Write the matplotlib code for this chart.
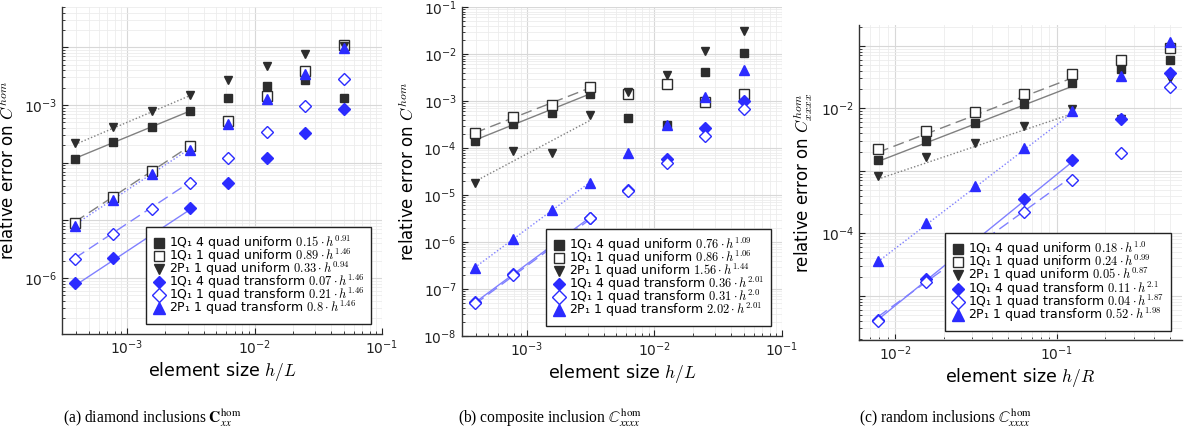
import numpy as np
import matplotlib
matplotlib.use("Agg")
import matplotlib.pyplot as plt
from matplotlib.font_manager import FontProperties
from matplotlib.lines import Line2D
from matplotlib.ticker import LogLocator, NullFormatter, FixedLocator

# ---------------- data ----------------
series_names = ["1Q₁ 4 quad uniform", "1Q₁ 1 quad uniform", "2P₁ 1 quad uniform",
                "1Q₁ 4 quad transform", "1Q₁ 1 quad transform", "2P₁ 1 quad transform"]

# (a) diamond inclusions
h_a = [3.90625e-4, 7.8125e-4, 1.5625e-3, 3.125e-3, 6.25e-3, 1.25e-2, 2.5e-2, 5e-2]
a_q4u = [1.16e-4, 2.28e-4, 4.16e-4, 7.96e-4, 1.32e-3, 2.14e-3, 2.72e-3, 1.32e-3]
a_q1u = [9.1e-6, 2.5e-5, 7.2e-5, 1.95e-4, 5.28e-4, 1.45e-3, 3.93e-3, 1.10e-2]
a_p1u = [2.17e-4, 4.16e-4, 7.96e-4, 1.49e-3, 2.72e-3, 4.74e-3, 7.58e-3, 1.05e-2]
a_q4t = [8.1e-7, 2.2e-6, 6.1e-6, 1.66e-5, 4.5e-5, 1.22e-4, 3.23e-4, 8.4e-4]
a_q1t = [2.11e-6, 5.8e-6, 1.57e-5, 4.38e-5, 1.22e-4, 3.4e-4, 9.6e-4, 2.79e-3]
a_p1t = [7.98e-6, 2.25e-5, 6.28e-5, 1.68e-4, 4.69e-4, 1.27e-3, 3.45e-3, 9.6e-3]
a_coef = [0.15, 0.89, 0.33, 0.07, 0.21, 0.8]
a_rate = [0.91, 1.46, 0.94, 1.46, 1.46, 1.46]
a_coef_txt = ["0.15", "0.89", "0.33", "0.07", "0.21", "0.8"]
a_rate_txt = ["0.91", "1.46", "0.94", "1.46", "1.46", "1.46"]

# (b) composite inclusion
h_b = [3.90625e-4, 7.8125e-4, 1.5625e-3, 3.125e-3, 6.25e-3, 1.25e-2, 2.5e-2, 5e-2]
b_q4u = [1.43e-4, 3.24e-4, 5.64e-4, 1.41e-3, 4.35e-4, 3.08e-4, 4.2e-3, 1.07e-2]
b_q1u = [2.05e-4, 4.65e-4, 8.2e-4, 1.96e-3, 1.39e-3, 2.3e-3, 9.37e-4, 1.39e-3]
b_p1u = [1.77e-5, 8.6e-5, 7.9e-5, 4.95e-4, 1.53e-3, 3.57e-3, 1.18e-2, 3.08e-2]
b_q4t = [5.2e-8, 2.1e-7, 8.3e-7, 3.3e-6, 1.3e-5, 5.74e-5, 2.7e-4, 1.0e-3]
b_q1t = [4.95e-8, 1.99e-7, 7.94e-7, 3.19e-6, 1.24e-5, 4.88e-5, 1.8e-4, 6.76e-4]
b_p1t = [2.85e-7, 1.16e-6, 4.72e-6, 1.83e-5, 7.7e-5, 3.08e-4, 1.24e-3, 4.57e-3]
b_coef = [0.76, 0.86, 1.56, 0.36, 0.31, 2.02]
b_rate = [1.09, 1.06, 1.44, 2.01, 2.0, 2.01]
b_coef_txt = ["0.76", "0.86", "1.56", "0.36", "0.31", "2.02"]
b_rate_txt = ["1.09", "1.06", "1.44", "2.01", "2.0", "2.01"]

# (c) random inclusions
h_c = [1/128, 1/64, 1/32, 1/16, 1/8, 1/4, 1/2]
c_q4u = [1.49e-3, 3.0e-3, 5.82e-3, 1.17e-2, 2.57e-2, 4.26e-2, 5.93e-2]
c_q1u = [2.23e-3, 4.38e-3, 8.63e-3, 1.71e-2, 3.54e-2, 6.0e-2, 9.33e-2]
c_p1u = [8.35e-4, 1.64e-3, 2.82e-3, 5.21e-3, 9.64e-3, 6.7e-3, 3.02e-2]
c_q4t = [4.1e-6, 1.86e-5, 8.0e-5, 3.5e-4, 1.51e-3, 6.74e-3, 3.71e-2]
c_q1t = [4.0e-6, 1.64e-5, 6.0e-5, 2.22e-4, 7.2e-4, 1.9e-3, 2.17e-2]
c_p1t = [3.6e-5, 1.44e-4, 5.78e-4, 2.34e-3, 9.05e-3, 3.29e-2, 0.116]
c_coef = [0.18, 0.24, 0.05, 0.11, 0.04, 0.52]
c_rate = [1.0, 0.99, 0.87, 2.1, 1.87, 1.98]
c_coef_txt = ["0.18", "0.24", "0.05", "0.11", "0.04", "0.52"]
c_rate_txt = ["1.0", "0.99", "0.87", "2.1", "1.87", "1.98"]

captions = [r"(a) diamond inclusions $\mathbf{C}^{\rm hom}_{xx}$",
            r"(b) composite inclusion $\mathbb{C}^{\rm hom}_{xxxx}$",
            r"(c) random inclusions $\mathbb{C}^{\rm hom}_{xxxx}$"]

# ---------------- styles ----------------
DARK = "#2d2d2d"
BLUE = "#2b2bff"
styles = [
    dict(marker="s", color=DARK, filled=True, ls="-"),
    dict(marker="s", color=DARK, filled=False, ls=(0, (8, 4))),
    dict(marker="v", color=DARK, filled=True, ls=(0, (1, 1.5))),
    dict(marker="D", color=BLUE, filled=True, ls="-"),
    dict(marker="D", color=BLUE, filled=False, ls=(0, (8, 4))),
    dict(marker="^", color=BLUE, filled=True, ls=(0, (1, 1.5))),
]
line_colors = ["#808080", "#808080", "#808080", "#8080ff", "#8080ff", "#8080ff"]
msizes = [5.5, 6.5, 6, 6, 6.5, 7]
leg_msizes = [7, 7.5, 7.5, 6.5, 7, 8]

fig = plt.figure(figsize=(11.9, 4.43), dpi=100)

W, H = 1190, 443
def ax_at(l, r, t, b):
    return fig.add_axes([l / W, (H - b) / H, (r - l) / W, (b - t) / H])

panels = [
    dict(box=(62, 382, 7, 334), h=h_a, ys=[a_q4u, a_q1u, a_p1u, a_q4t, a_q1t, a_p1t],
         coef=a_coef, rate=a_rate, ctxt=a_coef_txt, rtxt=a_rate_txt, nfit=4,
         xlim=(3.09e-4, 0.1), ylim=(1.07e-7, 5.0e-2),
         xt=[1e-3, 1e-2, 1e-1], yt_all=[10.0**k for k in range(-7, -1)], yt_lab=[1e-6, 1e-3],
         xlabel=r"element size $h/L$", ylabel=r"relative error on $C^{hom}$",
         cap_x=152),
    dict(box=(461.7, 782, 7, 336), h=h_b, ys=[b_q4u, b_q1u, b_p1u, b_q4t, b_q1t, b_p1t],
         coef=b_coef, rate=b_rate, ctxt=b_coef_txt, rtxt=b_rate_txt, nfit=4,
         xlim=(3.09e-4, 0.1), ylim=(1e-8, 1e-1),
         xt=[1e-3, 1e-2, 1e-1], yt_all=[10.0**k for k in range(-8, 0)],
         yt_lab=[10.0**k for k in range(-8, 0)],
         xlabel=r"element size $h/L$", ylabel=r"relative error on $C^{hom}$",
         cap_x=550),
    dict(box=(859.3, 1181.7, 25, 340), h=h_c, ys=[c_q4u, c_q1u, c_p1u, c_q4t, c_q1t, c_p1t],
         coef=c_coef, rate=c_rate, ctxt=c_coef_txt, rtxt=c_rate_txt, nfit=5,
         xlim=(6.0e-3, 0.593), ylim=(1.96e-6, 0.215),
         xt=[1e-2, 1e-1], yt_all=[10.0**k for k in range(-5, 0)], yt_lab=[1e-4, 1e-2],
         xlabel=r"element size $h/R$", ylabel=r"relative error on $C^{hom}_{xxxx}$",
         cap_x=945),
]

leg_prop = FontProperties(family="DejaVu Sans", size=9.0, math_fontfamily="cm")
xlab_prop = FontProperties(family="DejaVu Sans", size=12.5, math_fontfamily="cm")
ylab_prop = FontProperties(family="DejaVu Sans", size=12.0, math_fontfamily="cm")

for k, p in enumerate(panels):
    ax = ax_at(*p["box"])
    ax.set_xscale("log")
    ax.set_yscale("log")
    h = np.array(p["h"])
    nfit = p["nfit"]
    handles = []
    for i, (y, st) in enumerate(zip(p["ys"], styles)):
        hf = h[:nfit]
        ax.plot(hf, p["coef"][i] * hf ** p["rate"][i], color=line_colors[i],
                ls=st["ls"], lw=1.0, zorder=2)
        fc = st["color"] if st["filled"] else "white"
        ax.plot(h, y, ls="none", marker=st["marker"], ms=msizes[i],
                mfc=fc, mec=st["color"], mew=1.0, zorder=3 + i * 0.1)
        lab = f"{series_names[i]} ${p['ctxt'][i]} \\cdot h^{{{p['rtxt'][i]}}}$"
        handles.append(Line2D([], [], ls="none", marker=st["marker"], ms=leg_msizes[i],
                              mfc=fc, mec=st["color"], mew=1.0, label=lab))
    ax.xaxis.set_major_locator(FixedLocator(p["xt"]))
    ax.xaxis.set_minor_locator(LogLocator(base=10, subs=np.arange(2, 10), numticks=20))
    ax.xaxis.set_minor_formatter(NullFormatter())
    ax.set_xticks(p["xt"])
    ax.set_xticklabels([r"$10^{%d}$" % round(np.log10(v)) for v in p["xt"]])
    ax.set_yticks(p["yt_all"])
    ax.set_yticklabels([r"$10^{%d}$" % round(np.log10(v)) if v in p["yt_lab"] else ""
                        for v in p["yt_all"]])
    ax.yaxis.set_minor_locator(LogLocator(base=10, subs=np.arange(2, 10), numticks=20))
    ax.yaxis.set_minor_formatter(NullFormatter())
    ax.set_xlim(*p["xlim"])
    ax.set_ylim(*p["ylim"])
    ax.grid(True, which="major", color="#d8d8d8", lw=0.8)
    ax.grid(True, which="minor", color="#ececec", lw=0.6)
    ax.set_axisbelow(True)
    for s in ["top", "right"]:
        ax.spines[s].set_visible(False)
    for s in ["left", "bottom"]:
        ax.spines[s].set_color("#333333")
        ax.spines[s].set_linewidth(1.0)
    ax.tick_params(which="both", direction="in", labelsize=10, colors="#222222")
    ax.tick_params(which="major", length=4)
    ax.tick_params(which="minor", length=2.5)
    ax.set_xlabel(p["xlabel"], fontproperties=xlab_prop, labelpad=2)
    ax.set_ylabel(p["ylabel"], fontproperties=ylab_prop, labelpad=4)
    leg = ax.legend(handles=handles, loc="lower right", bbox_to_anchor=(0.967, 0.03),
                    prop=leg_prop, frameon=True, fancybox=False, framealpha=1,
                    edgecolor="#222222", labelspacing=-0.4, handletextpad=0.3,
                    handlelength=1.0, handleheight=0.5, borderpad=0.55, borderaxespad=0)
    leg.get_frame().set_linewidth(1.0)
    leg.set_zorder(10)
    fig.text(p["cap_x"] / W, 1 - 418 / H, captions[k],
             ha="center", va="center", fontsize=11.2, family="Liberation Serif",
             math_fontfamily="stix")

fig.savefig("out.png", dpi=100)
